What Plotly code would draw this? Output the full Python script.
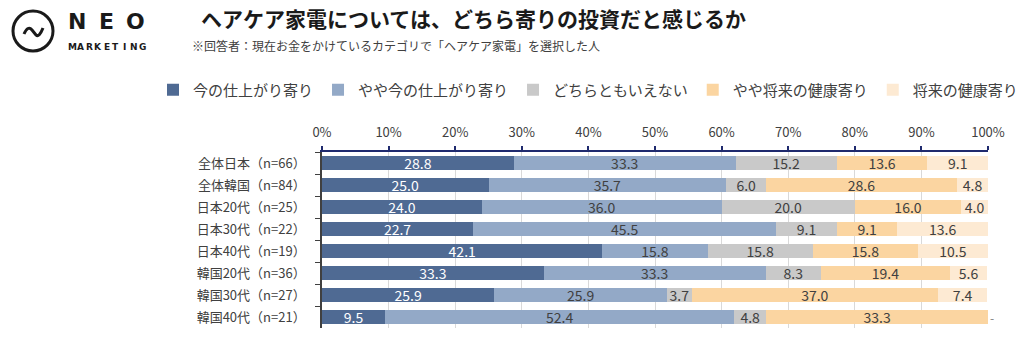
import plotly.graph_objects as go

# ---------------- data ----------------
categories = ["全体日本（n=66）", "全体韓国（n=84）", "日本20代（n=25）", "日本30代（n=22）",
              "日本40代（n=19）", "韓国20代（n=36）", "韓国30代（n=27）", "韓国40代（n=21）"]
series_names = ["今の仕上がり寄り", "やや今の仕上がり寄り", "どちらともいえない", "やや将来の健康寄り", "将来の健康寄り"]
s1 = [28.8, 25.0, 24.0, 22.7, 42.1, 33.3, 25.9, 9.5]
s2 = [33.3, 35.7, 36.0, 45.5, 15.8, 33.3, 25.9, 52.4]
s3 = [15.2, 6.0, 20.0, 9.1, 15.8, 8.3, 3.7, 4.8]
s4 = [13.6, 28.6, 16.0, 9.1, 15.8, 19.4, 37.0, 33.3]
s5 = [9.1, 4.8, 4.0, 13.6, 10.5, 5.6, 7.4, 0.0]
tick_vals = [0, 10, 20, 30, 40, 50, 60, 70, 80, 90, 100]
tick_text = ["0%", "10%", "20%", "30%", "40%", "50%", "60%", "70%", "80%", "90%", "100%"]

title_text = "ヘアケア家電については、どちら寄りの投資だと感じるか"
subtitle_text = "※回答者：現在お金をかけているカテゴリで「ヘアケア家電」を選択した人"

# ---------------- style ----------------
colors = ["#4F6A93", "#93A9C7", "#C9C9C9", "#FBD5A1", "#FDEAD3"]
text_colors = ["#FFFFFF", "#404040", "#404040", "#404040", "#404040"]
FONT = "Noto Sans CJK JP"

W, H = 1023, 343
L, R, T, B = 322, 35, 152, 15
PW, PH = W - L - R, H - T - B


def px(x):
    return (x - L) / PW


def py(y):
    return (H - B - y) / PH


fig = go.Figure()
for name, vals, col, tcol in zip(series_names, [s1, s2, s3, s4, s5], colors, text_colors):
    fig.add_trace(go.Bar(
        y=categories, x=vals, name=name, orientation="h",
        marker=dict(color=col, line=dict(width=0)),
        text=[f"{v:.1f}" if v > 0 else "" for v in vals],
        textposition="inside", insidetextanchor="middle", constraintext="none",
        textangle=0,
        textfont=dict(family=FONT, size=14, color=tcol),
        hoverinfo="skip",
    ))

annotations = [
    dict(text=f"<b>{title_text}</b>", x=px(199), y=py(18), xref="paper", yref="paper",
         xanchor="left", yanchor="middle", showarrow=False,
         font=dict(family=FONT, size=21, color="#1A1A1A")),
    dict(text=subtitle_text, x=px(190), y=py(45), xref="paper", yref="paper",
         xanchor="left", yanchor="middle", showarrow=False,
         font=dict(family=FONT, size=12, color="#404040")),
    dict(text="-", x=100, y=categories[-1], xref="x", yref="y", xanchor="left",
         yanchor="middle", showarrow=False, font=dict(family=FONT, size=12, color="#7F7F7F")),
]
# logo text
for ch, xc in zip("NEO", [77, 106, 135]):
    annotations.append(dict(text=f"<b>{ch}</b>", x=px(xc), y=py(21), xref="paper", yref="paper",
                            xanchor="center", yanchor="middle", showarrow=False,
                            font=dict(family="DejaVu Sans", size=22, color="#1A1A1A")))
for i, ch in enumerate("MARKETING"):
    annotations.append(dict(text=f"<b>{ch}</b>", x=px(72 + i * 8.8), y=py(47), xref="paper", yref="paper",
                            xanchor="center", yanchor="middle", showarrow=False,
                            font=dict(family="DejaVu Sans", size=9, color="#1A1A1A")))

cx, cy, r = 33, 31, 20
wave = (f"M {px(24)},{py(34)} Q {px(28)},{py(25)} {px(32)},{py(30)} "
        f"L {px(36)},{py(35)} Q {px(39)},{py(38)} {px(43)},{py(28)}")
shapes = [
    dict(type="circle", xref="paper", yref="paper", x0=px(cx - r), x1=px(cx + r),
         y0=py(cy + r), y1=py(cy - r), line=dict(color="#1A1A1A", width=3)),
    dict(type="path", xref="paper", yref="paper", path=wave, line=dict(color="#1A1A1A", width=3)),
]

fig.update_layout(
    width=W, height=H, barmode="stack", bargap=0.32,
    margin=dict(l=L, r=R, t=T, b=B, pad=0),
    paper_bgcolor="white", plot_bgcolor="white",
    font=dict(family=FONT, color="#404040"),
    showlegend=True,
    legend=dict(orientation="h", x=px(161), y=py(90), xanchor="left", yanchor="middle",
                font=dict(family=FONT, size=15, color="#404040"), traceorder="normal",
                itemclick=False, bgcolor="rgba(0,0,0,0)"),
    annotations=annotations, shapes=shapes,
    xaxis=dict(range=[0, 100], side="top", tickvals=tick_vals, ticktext=tick_text,
               showline=True, linecolor="#1F2A6E", linewidth=1.5,
               ticks="outside", ticklen=4, tickcolor="#1F2A6E", tickwidth=1.5,
               showgrid=True, gridcolor="#D9D9D9", gridwidth=1, zeroline=False,
               tickfont=dict(family=FONT, size=13, color="#404040"), ticklabelstandoff=4,
               fixedrange=True),
    yaxis=dict(type="category", autorange="reversed", showline=True, linecolor="#404040",
               linewidth=1.5, ticks="outside", tickson="boundaries", ticklen=5, tickcolor="#404040",
               showgrid=False, tickfont=dict(family=FONT, size=13, color="#404040"),
               ticklabelstandoff=12, fixedrange=True),
)

fig.write_html("out.html", config=dict(displayModeBar=False))
